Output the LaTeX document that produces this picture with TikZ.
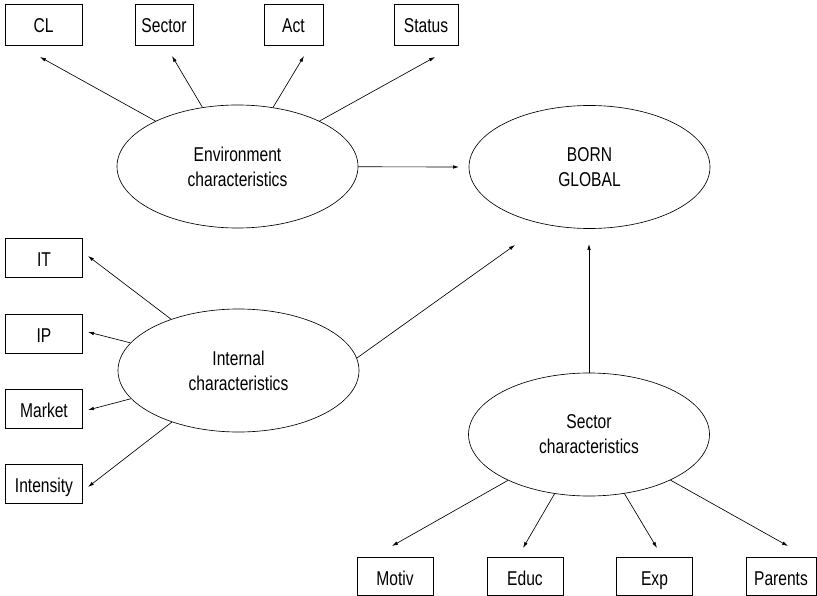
\documentclass[tikz,border=0pt]{standalone}
\usepackage{fontspec}
\setmainfont{Liberation Sans}[FakeStretch=0.78]
\usetikzlibrary{shapes.geometric,arrows.meta}
\begin{document}
\begin{tikzpicture}[x=1pt,y=-1pt,
  every node/.style={font=\fontsize{20}{24}\selectfont},
  ell/.style={draw, ellipse, line width=0.65pt, minimum width=241pt, minimum height=123pt, inner sep=0pt, align=center},
  box/.style={draw, rectangle, line width=0.65pt, minimum height=39pt, inner sep=0pt, text height=17pt, text depth=0pt},
  conn/.style={line width=0.65pt, -{Latex[length=6pt,width=3.6pt]}}]
\useasboundingbox (0,0) rectangle (817,596);
% ellipses
\node[ell] (env) at (237.5,166.5) {Environment\\[1pt]characteristics};
\node[ell] (born) at (589.5,167) {BORN\\[1pt]GLOBAL};
\node[ell] (int) at (238.5,370.5) {Internal\\[1pt]characteristics};
\node[ell] (sec) at (589,434.5) {Sector\\[1pt]characteristics};
% top boxes
\node[box, minimum width=77pt, minimum height=41pt] (cl) at (43.5,24.5) {CL};
\node[box, minimum width=58pt, minimum height=41pt] (sector) at (164,24.5) {Sector};
\node[box, minimum width=59pt, minimum height=41pt] (act) at (293.5,24.5) {Act};
\node[box, minimum width=64pt, minimum height=41pt] (status) at (426,24.5) {Status};
% left boxes
\node[box, minimum width=77pt] (it) at (44,257.5) {IT};
\node[box, minimum width=77pt] (ip) at (44,333.5) {IP};
\node[box, minimum width=77pt] (market) at (44,409) {Market};
\node[box, minimum width=77pt] (intensity) at (44,484) {Intensity};
% bottom boxes
\node[box, minimum width=76pt, minimum height=38pt] (motiv) at (395,576.5) {Motiv};
\node[box, minimum width=76pt, minimum height=38pt] (educ) at (525,576.5) {Educ};
\node[box, minimum width=76pt, minimum height=38pt] (exp) at (654.5,576.5) {Exp};
\node[box, minimum width=70pt, minimum height=38pt] (parents) at (781,576.5) {Parents};
% arrow end points
\coordinate (tCL) at (40,57);
\coordinate (tSe) at (172,56);
\coordinate (tAc) at (304,56);
\coordinate (tSt) at (435,57);
\coordinate (tIT) at (88,256);
\coordinate (tIP) at (88,332);
\coordinate (tMa) at (88,410);
\coordinate (tIn) at (88,487);
\coordinate (tMo) at (392,546);
\coordinate (tEd) at (523,548);
\coordinate (tEx) at (657,548);
\coordinate (tPa) at (788,546);
\coordinate (tB1) at (459,167);
\coordinate (tB2) at (515,245);
\coordinate (tB3) at (589,244);
% connectors
\draw[conn] (env) -- (tCL);
\draw[conn] (env) -- (tSe);
\draw[conn] (env) -- (tAc);
\draw[conn] (env) -- (tSt);
\draw[conn] (int) -- (tIT);
\draw[conn] (int) -- (tIP);
\draw[conn] (int) -- (tMa);
\draw[conn] (int) -- (tIn);
\draw[conn] (sec) -- (tMo);
\draw[conn] (sec) -- (tEd);
\draw[conn] (sec) -- (tEx);
\draw[conn] (sec) -- (tPa);
\draw[conn] (env) -- (tB1);
\draw[conn] (int.6) -- (tB2);
\draw[conn] (sec) -- (tB3);
\end{tikzpicture}
\end{document}
